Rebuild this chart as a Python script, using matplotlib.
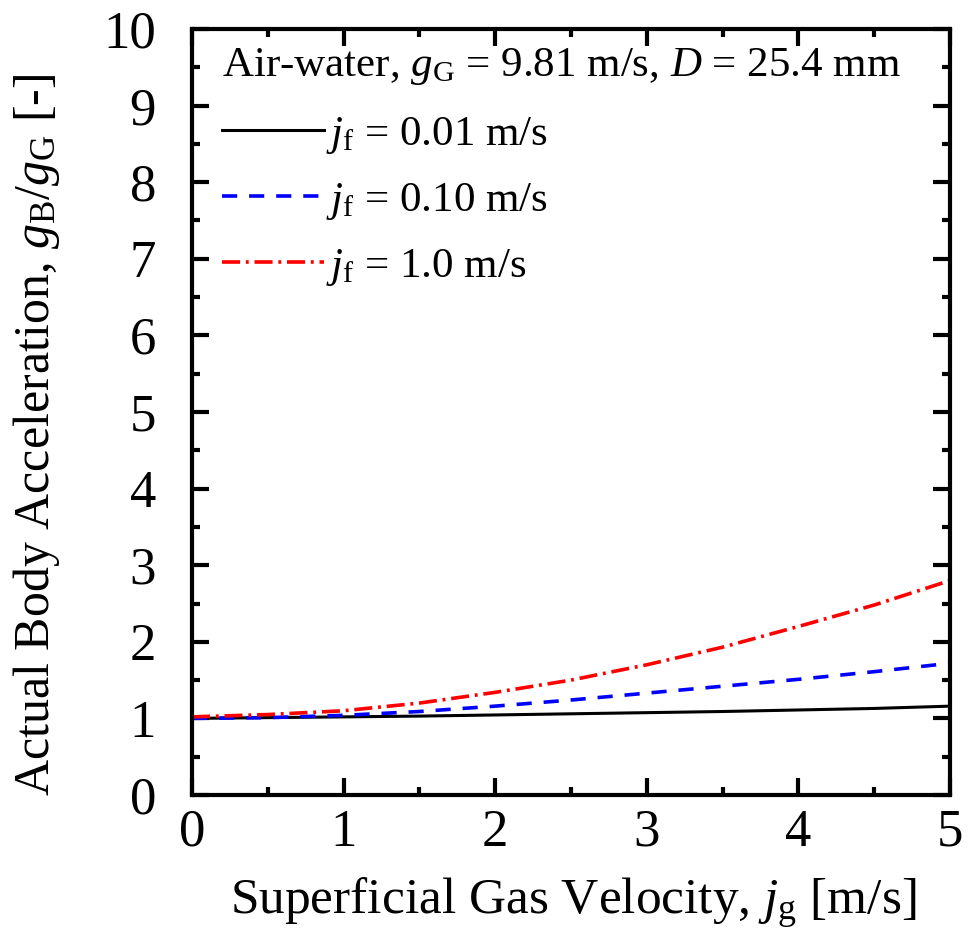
import numpy as np
from matplotlib import pyplot as plt

plt.rcParams['font.family'] = ['Liberation Serif', 'DejaVu Serif']
plt.rcParams['mathtext.fontset'] = 'custom'
plt.rcParams['mathtext.rm'] = 'Liberation Serif'
plt.rcParams['mathtext.it'] = 'Liberation Serif:italic'

# superficial gas velocity [m/s]
jg = [0.0, 0.5, 1.0, 1.5, 2.0, 2.5, 3.0, 3.5, 4.0, 4.5, 5.0]
# g_B/g_G
gb_001 = [1.00, 1.01, 1.02, 1.03, 1.045, 1.06, 1.075, 1.09, 1.11, 1.13, 1.16]
gb_010 = [1.00, 1.01, 1.04, 1.09, 1.16, 1.24, 1.33, 1.42, 1.51, 1.61, 1.72]
gb_100 = [1.02, 1.05, 1.10, 1.20, 1.34, 1.50, 1.70, 1.93, 2.20, 2.48, 2.80]

fig = plt.figure(figsize=(9.75, 9.49), dpi=100)
ax = fig.add_axes([192/975, 1-795/949, (950-192)/975, (795-29)/949])

ax.plot(jg, gb_001, color='black', lw=2.2, ls='-', label=r'$j_\mathrm{f}$ = 0.01 m/s')
ax.plot(jg, gb_010, color='blue', lw=2.6, ls=(0, (4.2, 3.3)), label=r'$j_\mathrm{f}$ = 0.10 m/s')
ax.plot(jg, gb_100, color='red', lw=2.6, ls=(0, (5, 1.6, 0.8, 1.6)), label=r'$j_\mathrm{f}$ = 1.0 m/s')

ax.set_xlim(0, 5)
ax.set_ylim(0, 10)
ax.set_xticks(np.arange(0, 6, 1))
ax.set_xticks(np.arange(0, 5.01, 0.5), minor=True)
ax.set_yticks(np.arange(0, 11, 1))
ax.set_yticks(np.arange(0, 10.01, 0.5), minor=True)
ax.tick_params(which='both', direction='in', top=True, right=True, width=3, labelsize=38)
ax.tick_params(which='major', length=12)
ax.tick_params(which='minor', length=6)
ax.tick_params(axis='x', which='major', pad=10)
ax.tick_params(axis='y', which='major', pad=26)
for s in ax.spines.values():
    s.set_linewidth(3)

ax.set_xlabel(r'Superficial Gas Velocity, $j_\mathrm{g}$ [m/s]', fontsize=37)
ax.xaxis.set_label_coords(0.503, -0.106)
ax.set_ylabel(r'Actual Body Acceleration, $g_\mathrm{B}/g_\mathrm{G}$ [-]', fontsize=36)
ax.yaxis.set_label_coords(-0.172, 0.47)

ax.text(0.04, 0.978, r'Air-water, $g_\mathrm{G}$ = 9.81 m/s, $D$ = 25.4 mm',
        transform=ax.transAxes, fontsize=31, ha='left', va='top')

leg = ax.legend(loc='upper left', bbox_to_anchor=(0.04, 0.888), fontsize=31,
                frameon=False, handlelength=2.35, handletextpad=0.05,
                labelspacing=0.58, borderaxespad=0, borderpad=0)

plt.savefig('out.png', dpi=100)
